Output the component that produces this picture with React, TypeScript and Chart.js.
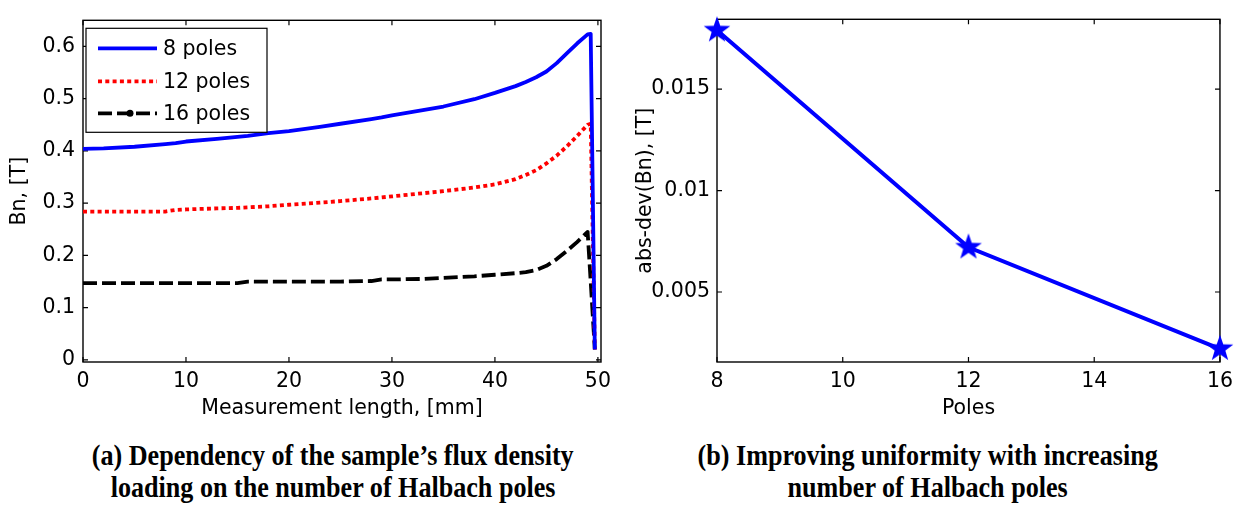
import React, { useEffect, useRef } from 'react';
import { Chart, registerables } from 'chart.js';

Chart.register(...registerables);

// ---- Data: panel (a) ----
const X_MM = [0, 2, 5, 8, 9, 10, 13, 15, 16, 18, 20, 23, 25, 28, 29, 30, 33, 35, 38, 40, 42, 43, 44, 45, 46, 47, 48, 49, 49.3, 49.7];
const BN_8 = [0.404, 0.405, 0.408, 0.413, 0.415, 0.418, 0.423, 0.427, 0.429, 0.434, 0.438, 0.446, 0.452, 0.461, 0.464, 0.468, 0.478, 0.485, 0.499, 0.511, 0.524, 0.532, 0.541, 0.552, 0.568, 0.587, 0.606, 0.623, 0.624, 0.02];
const BN_12 = [0.284, 0.284, 0.284, 0.284, 0.287, 0.288, 0.29, 0.291, 0.292, 0.294, 0.297, 0.301, 0.304, 0.309, 0.311, 0.313, 0.319, 0.323, 0.33, 0.336, 0.346, 0.354, 0.363, 0.376, 0.391, 0.409, 0.429, 0.45, 0.452, 0.02];
const BN_16 = [0.147, 0.147, 0.147, 0.147, 0.147, 0.147, 0.147, 0.147, 0.15, 0.15, 0.15, 0.15, 0.15, 0.151, 0.154, 0.154, 0.155, 0.157, 0.16, 0.163, 0.166, 0.168, 0.172, 0.18, 0.193, 0.209, 0.226, 0.245, 0.15, 0.02];
const SERIES_LABELS = ['8 poles', '12 poles', '16 poles'];
const X_TICKS_A = [0, 10, 20, 30, 40, 50];
const Y_TICKS_A = [0, 0.1, 0.2, 0.3, 0.4, 0.5, 0.6];

// ---- Data: panel (b) ----
const POLES = [8, 12, 16];
const ABS_DEV = [0.0179, 0.0072, 0.0022];
const X_TICKS_B = [8, 10, 12, 14, 16];
const Y_TICKS_B = [0.005, 0.01, 0.015];

const CAPTION_A = ['(a) Dependency of the sample\u2019s flux density', 'loading on the number of Halbach poles'];
const CAPTION_B = ['(b) Improving uniformity with increasing', 'number of Halbach poles'];

const AXIS_FONT = "'DejaVu Sans', sans-serif";
const FS = 20.5;

function fmt(v: number) {
  return String(parseFloat(Number(v).toFixed(4)));
}

const boxPlugin = {
  id: 'matlabBox',
  beforeDatasetsDraw(chart: any) {
    const { ctx, chartArea: a, scales } = chart;
    ctx.save();
    ctx.strokeStyle = '#000';
    ctx.lineWidth = 1.4;
    ctx.strokeRect(a.left, a.top, a.right - a.left, a.bottom - a.top);
    const L = 5;
    ctx.lineWidth = 1.2;
    ctx.beginPath();
    scales.x.ticks.forEach((t: any) => {
      const px = scales.x.getPixelForValue(t.value);
      ctx.moveTo(px, a.bottom);
      ctx.lineTo(px, a.bottom - L);
      ctx.moveTo(px, a.top);
      ctx.lineTo(px, a.top + L);
    });
    scales.y.ticks.forEach((t: any) => {
      const py = scales.y.getPixelForValue(t.value);
      ctx.moveTo(a.left, py);
      ctx.lineTo(a.left + L, py);
      ctx.moveTo(a.right, py);
      ctx.lineTo(a.right - L, py);
    });
    ctx.stroke();
    ctx.restore();
  },
};

const legendPlugin = {
  id: 'insideLegend',
  afterDatasetsDraw(chart: any) {
    const { ctx, chartArea: a } = chart;
    const bx = a.left + 3;
    const by = a.top + 8;
    const bw = 181;
    const bh = 104;
    ctx.save();
    ctx.fillStyle = '#fff';
    ctx.fillRect(bx, by, bw, bh);
    ctx.strokeStyle = '#000';
    ctx.lineWidth = 1.2;
    ctx.strokeRect(bx, by, bw, bh);
    const rows = [20, 53, 85];
    chart.data.datasets.forEach((ds: any, i: number) => {
      const y = by + rows[i];
      ctx.beginPath();
      ctx.setLineDash(ds.borderDash || []);
      ctx.strokeStyle = ds.borderColor;
      ctx.lineWidth = ds.borderWidth;
      ctx.lineCap = 'butt';
      ctx.moveTo(bx + 12, y);
      ctx.lineTo(bx + 71, y);
      ctx.stroke();
      ctx.setLineDash([]);
      if (ds.legendDot) {
        ctx.fillStyle = ds.borderColor;
        ctx.beginPath();
        ctx.arc(bx + 44, y, 3.5, 0, Math.PI * 2);
        ctx.fill();
      }
      ctx.fillStyle = '#000';
      ctx.font = `${FS}px ${AXIS_FONT}`;
      ctx.textBaseline = 'middle';
      ctx.textAlign = 'left';
      ctx.fillText(ds.label, bx + 77, y + 1.5);
    });
    ctx.restore();
  },
};

function makeStar(r: number, color: string) {
  const c = document.createElement('canvas');
  const s = Math.ceil(r * 2 + 2);
  c.width = s;
  c.height = s;
  const g = c.getContext('2d') as CanvasRenderingContext2D;
  g.fillStyle = color;
  g.beginPath();
  for (let i = 0; i < 10; i++) {
    const ang = -Math.PI / 2 + (i * Math.PI) / 5;
    const rr = i % 2 === 0 ? r : r * 0.4;
    g.lineTo(s / 2 + rr * Math.cos(ang), s / 2 + rr * Math.sin(ang));
  }
  g.closePath();
  g.fill();
  return c;
}

const font = { family: AXIS_FONT, size: FS };

function axis(opts: {
  min: number; max: number; ticks: number[]; title: string;
  size: number; horizontal: boolean; titlePad: any; tickPad: number;
}) {
  return {
    type: 'linear',
    min: opts.min,
    max: opts.max,
    afterBuildTicks: (s: any) => {
      s.ticks = opts.ticks.map((v) => ({ value: v }));
    },
    afterFit: (s: any) => {
      if (opts.horizontal) s.height = opts.size;
      else s.width = opts.size;
    },
    grid: { display: false, drawTicks: false, tickLength: 0 },
    border: { display: false },
    ticks: {
      font,
      color: '#000',
      padding: opts.tickPad,
      maxRotation: 0,
      autoSkip: false,
      callback: (v: any) => fmt(v),
    },
    title: {
      display: true,
      text: opts.title,
      font,
      color: '#000',
      padding: opts.titlePad,
    },
  };
}

export default function App() {
  const refA = useRef<HTMLCanvasElement>(null);
  const refB = useRef<HTMLCanvasElement>(null);

  useEffect(() => {
    const chartA = new Chart(refA.current as HTMLCanvasElement, {
      type: 'line',
      data: {
        datasets: [
          {
            label: SERIES_LABELS[0],
            data: X_MM.map((x, i) => ({ x, y: BN_8[i] })),
            borderColor: '#0000ff',
            borderWidth: 3.8,
            pointRadius: 0,
          },
          {
            label: SERIES_LABELS[1],
            data: X_MM.map((x, i) => ({ x, y: BN_12[i] })),
            borderColor: '#ff0000',
            borderWidth: 3.8,
            borderDash: [4, 3.3],
            pointRadius: 0,
          },
          {
            label: SERIES_LABELS[2],
            data: X_MM.map((x, i) => ({ x, y: BN_16[i] })),
            borderColor: '#000000',
            borderWidth: 3.8,
            borderDash: [14, 5],
            pointRadius: 0,
            legendDot: true,
          } as any,
        ],
      },
      options: {
        responsive: false,
        animation: false,
        devicePixelRatio: 1,
        layout: { padding: { top: 5, right: 19, left: 0, bottom: 0 } },
        plugins: { legend: { display: false }, tooltip: { enabled: false } },
        elements: { line: { tension: 0, borderCapStyle: 'butt', borderJoinStyle: 'round' } },
        scales: {
          x: axis({ min: 0, max: 50.3, ticks: X_TICKS_A, title: 'Measurement length, [mm]', size: 60, horizontal: true, titlePad: { top: 0, bottom: 1 }, tickPad: 7 }),
          y: axis({ min: -0.004, max: 0.65, ticks: Y_TICKS_A, title: 'Bn, [T]', size: 83, horizontal: false, titlePad: { top: 7, bottom: 0 }, tickPad: 8 }),
        } as any,
      },
      plugins: [boxPlugin, legendPlugin],
    } as any);

    const star = makeStar(14, '#0000ff');
    const chartB = new Chart(refB.current as HTMLCanvasElement, {
      type: 'line',
      data: {
        datasets: [
          {
            label: 'abs-dev',
            data: POLES.map((x, i) => ({ x, y: ABS_DEV[i] })),
            borderColor: '#0000ff',
            backgroundColor: '#0000ff',
            borderWidth: 4,
            pointStyle: star,
            pointRadius: 14,
            clip: false,
          } as any,
        ],
      },
      options: {
        responsive: false,
        animation: false,
        devicePixelRatio: 1,
        layout: { padding: { top: 7, right: 20, left: 0, bottom: 0 } },
        plugins: { legend: { display: false }, tooltip: { enabled: false } },
        elements: { line: { tension: 0 } },
        scales: {
          x: axis({ min: 8, max: 16, ticks: X_TICKS_B, title: 'Poles', size: 60, horizontal: true, titlePad: { top: 0, bottom: 1 }, tickPad: 7 }),
          y: axis({ min: 0.00155, max: 0.01844, ticks: Y_TICKS_B, title: 'abs-dev(Bn), [T]', size: 97, horizontal: false, titlePad: { top: 13.7, bottom: 0 }, tickPad: 7 }),
        } as any,
      },
      plugins: [boxPlugin],
    } as any);

    return () => {
      chartA.destroy();
      chartB.destroy();
    };
  }, []);

  const captionStyle = (left: number, width: number): React.CSSProperties => ({
    position: 'absolute',
    left,
    width,
    top: 439,
    textAlign: 'center',
    fontFamily: "'Liberation Serif', 'Times New Roman', serif",
    fontWeight: 'bold',
    fontSize: 29,
    lineHeight: '32px',
    color: '#000',
    whiteSpace: 'nowrap',
  });

  const lineSpan: React.CSSProperties = {
    display: 'inline-block',
    transform: 'scaleX(0.9)',
    transformOrigin: 'center',
  };

  return (
    <div style={{ position: 'fixed', left: 0, top: 0, width: 1240, height: 508, background: '#fff', overflow: 'hidden' }}>
      <canvas ref={refA} width={620} height={422} style={{ position: 'absolute', left: 0, top: 0 }} />
      <canvas ref={refB} width={620} height={422} style={{ position: 'absolute', left: 620, top: 0 }} />
      <div style={captionStyle(0, 666)}>
        {CAPTION_A.map((t) => (
          <div key={t}>
            <span style={lineSpan}>{t}</span>
          </div>
        ))}
      </div>
      <div style={captionStyle(620, 616)}>
        {CAPTION_B.map((t) => (
          <div key={t}>
            <span style={lineSpan}>{t}</span>
          </div>
        ))}
      </div>
    </div>
  );
}
